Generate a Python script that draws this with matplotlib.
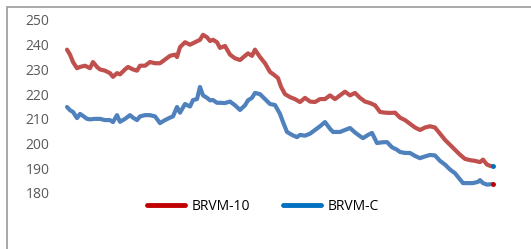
import matplotlib
matplotlib.use('Agg')
import matplotlib.pyplot as plt
from matplotlib.lines import Line2D
from matplotlib.patches import Rectangle

plt.rcParams['font.family'] = ['Open Sans', 'DejaVu Sans']

# position le long de la periode (unite arbitraire) et valeurs des indices
jours_10 = [0, 3, 6, 10, 13, 18, 23, 26, 30, 33, 38, 43, 46, 50, 53, 58, 61, 66, 70, 73,
            78, 83, 88, 93, 98, 103, 108, 110, 113, 118, 123, 128, 133, 136, 140, 143, 146, 150, 153, 158,
            163, 168, 173, 178, 181, 185, 188, 193, 198, 203, 208, 211, 214, 218, 223, 228, 233, 238, 243, 248,
            253, 258, 263, 268, 273, 278, 283, 288, 293, 298, 303, 308, 313, 318, 323, 328, 333, 338, 343, 348,
            353, 358, 363, 368, 373, 378, 383, 388, 393, 398, 403, 408, 413, 416, 420, 423, 425]
brvm10 = [238, 236, 233, 230.5, 231, 231.5, 230.5, 233, 231, 230, 229.5, 228.5, 227, 228.5, 228, 230, 231, 230, 229.5, 231.5,
          231.5, 233, 232.5, 232.5, 234, 235.5, 236, 235, 239, 241, 240, 241, 242, 244, 243, 241.5, 242, 241, 238.7, 239.5,
          236, 234.5, 233.8, 235.5, 236.5, 235.5, 238, 235, 232.5, 229, 227.5, 226.5, 223, 220, 218.8, 218, 216.8, 218.5, 217, 216.8,
          218, 218, 219.5, 218, 219.5, 221, 219.5, 220.5, 218.5, 217, 216.4, 215.5, 212.8, 212.5, 212.4, 212.5, 210.5, 209.5, 208, 206.5,
          205.5, 206.5, 207, 206.5, 204, 201.5, 199.5, 197.5, 195.5, 193.8, 193.3, 193, 192.5, 193.5, 191.5, 191, 190.8]

jours_c = [0, 3, 6, 10, 13, 16, 20, 23, 28, 33, 38, 43, 46, 50, 53, 58, 63, 66, 70, 73,
           78, 83, 88, 93, 98, 103, 106, 110, 113, 118, 123, 126, 130, 133, 136, 140, 143, 146, 150, 153,
           158, 163, 168, 173, 178, 181, 185, 188, 193, 198, 203, 208, 213, 216, 220, 225, 230, 233, 238, 243,
           248, 253, 258, 263, 266, 273, 278, 283, 288, 293, 296, 301, 305, 310, 315, 320, 325, 330, 333, 338,
           343, 348, 353, 358, 363, 368, 373, 378, 383, 388, 393, 396, 401, 406, 411, 413, 416, 420, 425]
brvmc = [214.8, 213.5, 212.8, 210.3, 212, 211.2, 210, 209.8, 210, 210, 209.5, 209.5, 208.7, 211.5, 208.8, 210, 211.5, 210.5, 209.5, 211,
         211.5, 211.5, 211, 208.3, 209.5, 210.5, 211, 214.8, 212.5, 216, 215, 217.6, 218, 222.9, 219.5, 218.5, 217.5, 217.6, 216.5, 216.5,
         216.4, 217, 215.5, 213.6, 215.5, 217.5, 218.5, 220.5, 220, 218, 216, 215.6, 212, 208.7, 204.7, 203.5, 202.6, 203.5, 203.2, 204,
         205.5, 207, 208.7, 206, 204.7, 204.7, 205.5, 206.3, 204.5, 203, 202.2, 203.5, 204.3, 200.2, 200.5, 200.6, 198.5, 197.5, 196.6, 196.2,
         196.2, 195, 194.1, 194.8, 195.4, 195.2, 193, 191.5, 189.5, 188, 185.5, 184, 184, 184, 184.5, 185.2, 184, 183.4, 183.6]

graduations = [180, 190, 200, 210, 220, 230, 240, 250]

rouge = '#C0504D'
bleu = '#4F81BD'

fig = plt.figure(figsize=(5.31, 2.49), dpi=100, facecolor='white')
ax = fig.add_axes([55 / 531, 1 - 193 / 249, 455 / 531, 173 / 249])

ax.plot(jours_10, brvm10, color=rouge, lw=3, solid_capstyle='round')
ax.plot(jours_c, brvmc, color=bleu, lw=3, solid_capstyle='round')
# petits points en bout de courbe
ax.plot(jours_10[-1] + 1.5, brvm10[-1], 'o', color='#0070C0', ms=2.5)
ax.plot(jours_c[-1] + 1.5, brvmc[-1], 'o', color='#C00000', ms=2.5)

ax.set_xlim(-12, 443)
ax.set_ylim(180, 250)
ax.set_yticks(graduations)
ax.set_xticks([])
ax.tick_params(axis='y', length=0, labelsize=10, labelcolor='#595959', pad=4)
for s in ax.spines.values():
    s.set_visible(False)

# cadre gris du graphique
fig.add_artist(Rectangle((7 / 531, -0.1), 1.1, 1.1 - 7.5 / 249 + 0.0,
                         transform=fig.transFigure, fill=False,
                         edgecolor='#9A9A9A', lw=1.2))

poignees = [Line2D([], [], color='#C00000', lw=3.5, solid_capstyle='round'),
            Line2D([], [], color='#0070C0', lw=3.5, solid_capstyle='round')]
fig.legend(poignees, ['BRVM-10', 'BRVM-C'], ncol=2, loc='center',
           bbox_to_anchor=(263 / 531, 1 - 206 / 249), frameon=False,
           fontsize=10, handlelength=2.7, handletextpad=0.5, columnspacing=2.4)

fig.savefig('out.png', dpi=100, facecolor='white')
